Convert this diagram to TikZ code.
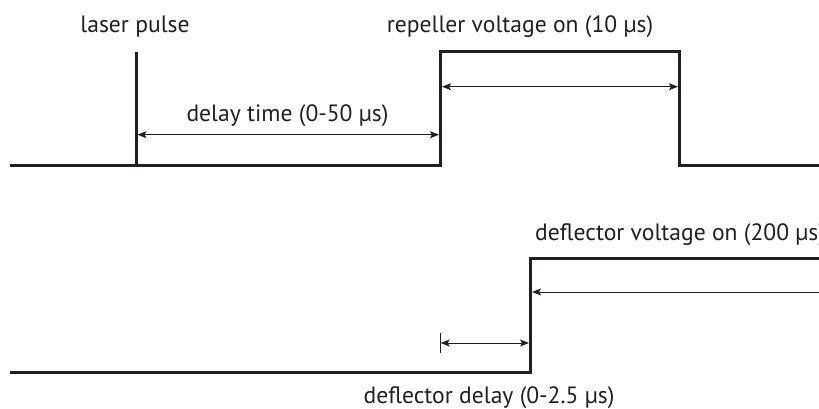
\documentclass[tikz,border=0pt]{standalone}
\usepackage{fontspec}
\setmainfont{PT Sans}
\usetikzlibrary{arrows.meta}
\definecolor{ink}{HTML}{231F20}
\begin{document}
\begin{tikzpicture}[x=1pt,y=-1pt,
  wave/.style={line width=3pt, draw=ink, line join=miter, line cap=butt},
  dim/.style={line width=1pt, draw=ink},
  tipL/.style={{Stealth[length=9pt,width=7pt,inset=2pt]}-},
  tipR/.style={-{Stealth[length=9pt,width=7pt,inset=2pt]}},
  tipLR/.style={{Stealth[length=9pt,width=7pt,inset=2pt]}-{Stealth[length=9pt,width=7pt,inset=2pt]}},
  lbl/.style={font=\fontsize{23.6pt}{26pt}\selectfont, text=ink, inner sep=0pt, anchor=base}]
\useasboundingbox (0,0) rectangle (819,409);
% top waveform
\coordinate (t0) at (10,165);
\coordinate (lpb) at (136,165);
\coordinate (lpt) at (136,52);
\coordinate (r1) at (440.5,165);
\coordinate (r2) at (440.5,51.5);
\coordinate (r3) at (679.5,51.5);
\coordinate (r4) at (679.5,165);
\coordinate (t5) at (819,165);
\draw[wave] (t0) -- (r1) -- (r2) -- (r3) -- (r4) -- (t5);
\draw[wave] (lpb) -- (lpt);
% top dimension arrows
\coordinate (d1a) at (137.5,134.7);
\coordinate (d1b) at (439,134.7);
\draw[dim,tipLR] (d1a) -- (d1b);
\coordinate (d2a) at (442,86.7);
\coordinate (d2b) at (678,86.7);
\draw[dim,tipLR] (d2a) -- (d2b);
% top labels
\node[lbl] (laser) at (135,33) {laser pulse};
\node[lbl] (rep) at (520,33) {repeller voltage on (10 µs)};
\node[lbl] (delay) at (287.5,121.5) {delay time (0-50 µs)};
% bottom waveform
\coordinate (b0) at (10,372);
\coordinate (b1) at (530.5,372);
\coordinate (b2) at (530.5,258);
\coordinate (b3) at (819,258);
\draw[wave] (b0) -- (b1) -- (b2) -- (b3);
% bottom dimension arrows
\coordinate (e1a) at (532,292);
\coordinate (e1b) at (819,292);
\draw[dim,tipL] (e1a) -- (e1b);
\coordinate (tk1) at (440.7,333);
\coordinate (tk2) at (440.7,353);
\draw[dim] (tk1) -- (tk2);
\coordinate (e2a) at (440.7,343);
\coordinate (e2b) at (529,343);
\draw[dim,tipLR] (e2a) -- (e2b);
% bottom labels
\node[lbl, anchor=base west] (defl) at (535,240) {deflector voltage on (200 µs)};
\node[lbl] (ddelay) at (489,403) {deflector delay (0-2.5 µs)};
\end{tikzpicture}
\end{document}
